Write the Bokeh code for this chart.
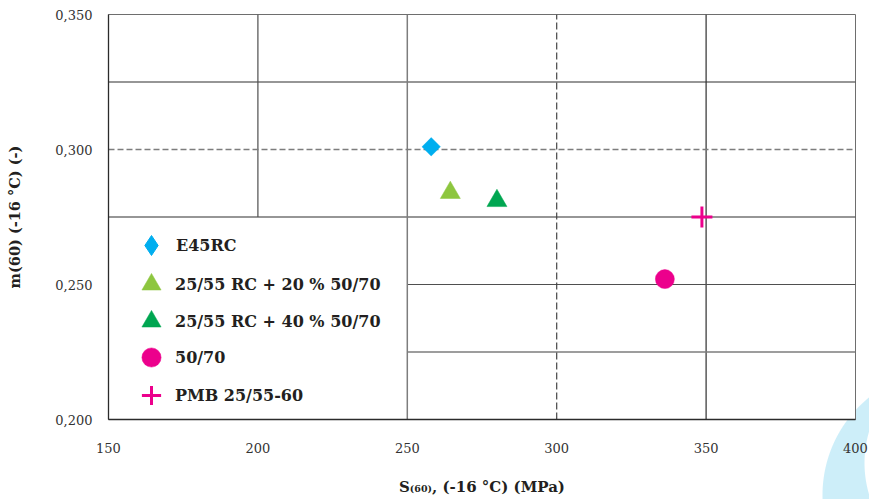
import math
from bokeh.plotting import figure
from bokeh.models import (ColumnDataSource, Legend, LegendItem, FixedTicker,
                          CustomJSTickFormatter, Range1d)
from bokeh.embed import file_html
from bokeh.resources import INLINE

# ---- data ----
series = ["E45RC", "25/55 RC + 20 % 50/70", "25/55 RC + 40 % 50/70", "50/70", "PMB 25/55-60"]
s60 = [258.0, 264.4, 280.0, 336.2, 348.6]      # S(60) (-16 °C) in MPa
m60 = [0.301, 0.284, 0.281, 0.252, 0.275]      # m(60) (-16 °C)

x_ticks = [150, 200, 250, 300, 350, 400]
y_ticks = [0.200, 0.250, 0.300, 0.350]

# chart grid pattern (table-like cells)
grid_dark = dict(x0=[150, 150, 350], y0=[0.325, 0.275, 0.200],
                 x1=[400, 400, 350], y1=[0.325, 0.275, 0.350])
grid_mid = dict(x0=[200, 250], y0=[0.275, 0.250],
                x1=[200, 400], y1=[0.350, 0.250])
grid_light = dict(x0=[250, 250], y0=[0.200, 0.225],
                  x1=[250, 400], y1=[0.350, 0.225])
grid_dash_h = dict(x0=[150], y0=[0.300], x1=[400], y1=[0.300])
grid_dash_v = dict(x0=[300], y0=[0.200], x1=[300], y1=[0.350])

FONT = "DejaVu Serif"
TXT = "#231f20"

p = figure(width=869, height=499, output_backend="svg", toolbar_location=None,
           x_range=Range1d(150, 400), y_range=Range1d(0.200, 0.350),
           min_border_left=108, min_border_right=14, min_border_top=14, min_border_bottom=80)
p.border_fill_color = None
p.background_fill_color = "white"
p.outline_line_color = "#6e6e6e"
p.xgrid.visible = False
p.ygrid.visible = False
p.styles = {"background": (
    "radial-gradient(circle at 975px 463px, #ffffff 0px, #ffffff 110px, rgba(255,255,255,0) 111px), "
    "radial-gradient(circle at 948px 495px, #cdeef9 0px, #cdeef9 125px, rgba(255,255,255,0) 126px)")}

# grid segments
p.segment(x0="x0", y0="y0", x1="x1", y1="y1", source=ColumnDataSource(grid_dark),
          line_color="#2e2e2e", line_width=1.2)
p.segment(x0="x0", y0="y0", x1="x1", y1="y1", source=ColumnDataSource(grid_mid),
          line_color="#4f4f4f", line_width=1.2)
p.segment(x0="x0", y0="y0", x1="x1", y1="y1", source=ColumnDataSource(grid_light),
          line_color="#7d7d7d", line_width=1.5)
p.segment(x0="x0", y0="y0", x1="x1", y1="y1", source=ColumnDataSource(grid_dash_h),
          line_color="#7d7d7d", line_width=1.3, line_dash="6 3")
p.segment(x0="x0", y0="y0", x1="x1", y1="y1", source=ColumnDataSource(grid_dash_v),
          line_color="#444444", line_width=1.2, line_dash="7 3")

# data markers
r0 = p.scatter(x=[s60[0]], y=[m60[0]], marker="square", angle=math.pi / 4, size=13,
               fill_color="#00aeef", line_color="#00aeef", line_width=0.5)
r1 = p.scatter(x=[s60[1]], y=[m60[1]], marker="triangle", size=20,
               fill_color="#8dc63f", line_color="#8dc63f", line_width=0.5)
r2 = p.scatter(x=[s60[2]], y=[m60[2]], marker="triangle", size=20,
               fill_color="#00a651", line_color="#00a651", line_width=0.5)
r3 = p.scatter(x=[s60[3]], y=[m60[3]], marker="circle", size=19,
               fill_color="#ec008c", line_color="#ec008c", line_width=0.5)
r4 = p.scatter(x=[s60[4]], y=[m60[4]], marker="cross", size=21,
               line_color="#ec008c", line_width=3)
# hidden twin used only for the legend's diamond symbol
r0_leg = p.scatter(x=[s60[0]], y=[m60[0]], marker="diamond", visible=False,
                   fill_color="#00aeef", line_color="#00aeef", line_width=1)

# one legend box per entry so the symbols can be large while rows stay close
leg_renderers = [r0_leg, r1, r2, r3, r4]
leg_bottoms = [150, 111, 74, 38, 0]          # px above the frame bottom
for i, (lab, rr) in enumerate(zip(series, leg_renderers)):
    g = 50 if i == 0 else 48
    lg = Legend(items=[LegendItem(label=lab, renderers=[rr])],
                location=(151 - 108 - g / 2, leg_bottoms[i] - (g - 48) / 2),
                orientation="vertical",
                glyph_width=g, glyph_height=g, label_height=g, spacing=0,
                label_standoff=176 - 151 - g // 2 - g // 2 + (1 if g == 48 else 0),
                padding=0, margin=0,
                border_line_alpha=0, background_fill_alpha=0,
                label_text_font=FONT, label_text_font_style="bold",
                label_text_font_size="16px", label_text_color=TXT)
    p.add_layout(lg, "center")

# axes
for ax in (p.xaxis[0], p.yaxis[0]):
    ax.major_tick_in = 0
    ax.major_tick_out = 0
    ax.minor_tick_in = 0
    ax.minor_tick_out = 0
    ax.axis_line_color = "#2b2b2b"
    ax.axis_line_width = 1.3
    ax.major_label_text_font = FONT
    ax.major_label_text_font_size = "13px"
    ax.major_label_text_color = "#333333"

p.xaxis.ticker = FixedTicker(ticks=x_ticks)
p.xaxis.major_label_standoff = 23
p.xaxis.axis_label = "S\u208d\u2086\u2080\u208e, (-16 °C) (MPa)"
p.xaxis.axis_label_text_font = FONT
p.xaxis.axis_label_text_font_style = "bold"
p.xaxis.axis_label_text_font_size = "15px"
p.xaxis.axis_label_text_color = TXT
p.xaxis.axis_label_standoff = 22

p.yaxis.ticker = FixedTicker(ticks=y_ticks)
p.yaxis.formatter = CustomJSTickFormatter(code="return tick.toFixed(3).replace('.', ',');")
p.yaxis.major_label_standoff = 16
p.yaxis.axis_label = "m(60) (-16 °C) (-)"
p.yaxis.axis_label_text_font = FONT
p.yaxis.axis_label_text_font_style = "bold"
p.yaxis.axis_label_text_font_size = "14.5px"
p.yaxis.axis_label_text_color = TXT
p.yaxis.axis_label_standoff = 29

open("out.html", "w").write(file_html(p, INLINE))
